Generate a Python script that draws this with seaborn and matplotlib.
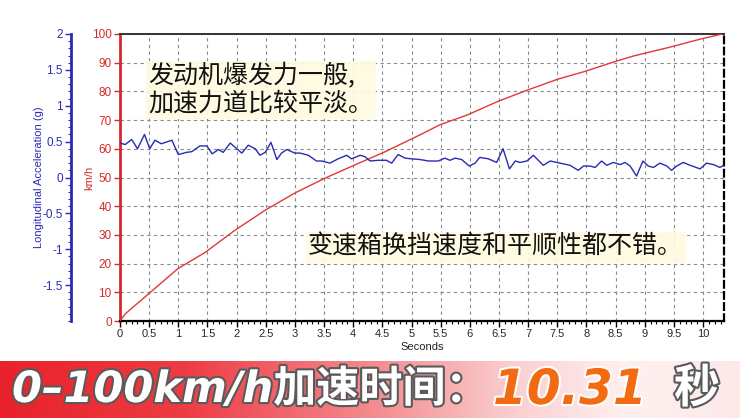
import numpy as np
import pandas as pd
import matplotlib
matplotlib.use("Agg")
import matplotlib.pyplot as plt
import matplotlib.patheffects as pe
from matplotlib.colors import LinearSegmentedColormap
from matplotlib.ticker import MultipleLocator, FixedLocator
import seaborn as sns

# ---------------- data ----------------
time_speed = [0.0, 0.09, 0.51, 0.99, 1.46, 1.97, 2.49, 3.0, 3.52, 4.03, 4.55,
              5.15, 5.49, 5.97, 6.48, 6.98, 7.5, 7.98, 8.46, 8.8, 9.43, 9.95, 10.33]
speed_kmh = [0.0, 2.5, 9.8, 18.2, 23.9, 31.6, 38.6, 44.6, 49.8, 54.4, 59.0,
             64.9, 68.4, 71.9, 76.5, 80.4, 84.2, 87.0, 90.2, 92.3, 95.4, 98.2, 100.0]

time_acc = [0.0, 0.09, 0.2, 0.3, 0.42, 0.51, 0.6, 0.71, 0.89, 1.0, 1.14, 1.23, 1.37, 1.49,
            1.58, 1.69, 1.77, 1.89, 2.09, 2.2, 2.32, 2.4, 2.49, 2.59, 2.69, 2.77, 2.86,
            3.0, 3.09, 3.23, 3.37, 3.46, 3.6, 3.74, 3.89, 3.97, 4.12, 4.2, 4.29, 4.43,
            4.57, 4.66, 4.77, 4.89, 5.0, 5.15, 5.29, 5.46, 5.57, 5.66, 5.75, 5.86, 5.99,
            6.09, 6.17, 6.32, 6.46, 6.57, 6.68, 6.78, 6.86, 6.98, 7.09, 7.26, 7.38, 7.55,
            7.72, 7.86, 7.95, 8.06, 8.15, 8.26, 8.35, 8.46, 8.58, 8.66, 8.75, 8.86, 8.97,
            9.06, 9.15, 9.26, 9.38, 9.46, 9.55, 9.66, 9.78, 9.95, 10.06, 10.18, 10.29, 10.35]
acc_g = [0.48, 0.46, 0.53, 0.40, 0.60, 0.40, 0.52, 0.47, 0.52, 0.32, 0.35, 0.36, 0.44, 0.44,
         0.33, 0.39, 0.35, 0.48, 0.34, 0.45, 0.40, 0.31, 0.35, 0.49, 0.25, 0.34, 0.39,
         0.34, 0.34, 0.31, 0.23, 0.23, 0.20, 0.26, 0.31, 0.26, 0.31, 0.29, 0.23, 0.24,
         0.24, 0.20, 0.32, 0.27, 0.26, 0.25, 0.23, 0.23, 0.27, 0.24, 0.27, 0.25, 0.16,
         0.20, 0.28, 0.26, 0.21, 0.40, 0.12, 0.23, 0.21, 0.23, 0.31, 0.17, 0.23, 0.20,
         0.17, 0.10, 0.16, 0.16, 0.14, 0.23, 0.17, 0.21, 0.18, 0.21, 0.16, 0.02, 0.23,
         0.16, 0.14, 0.20, 0.16, 0.10, 0.16, 0.21, 0.17, 0.12, 0.20, 0.18, 0.14, 0.17]

speed_ticks = [0, 10, 20, 30, 40, 50, 60, 70, 80, 90, 100]
acc_ticks = [-1.5, -1, -0.5, 0, 0.5, 1, 1.5, 2]
acc_tick_labels = ["-1.5", "-1", "-0.5", "0", "0.5", "1", "1.5", "2"]
sec_ticks = [0, 0.5, 1, 1.5, 2, 2.5, 3, 3.5, 4, 4.5, 5, 5.5, 6, 6.5, 7, 7.5, 8, 8.5, 9, 9.5, 10]
sec_tick_labels = ["0", "0.5", "1", "1.5", "2", "2.5", "3", "3.5", "4", "4.5", "5", "5.5",
                   "6", "6.5", "7", "7.5", "8", "8.5", "9", "9.5", "10"]

note1 = "发动机爆发力一般,\n加速力道比较平淡。"
note2 = "变速箱换挡速度和平顺性都不错。"
banner_a = "0–100km/h加速时间："
banner_b = "10.31"
banner_c = "秒"

# ---------------- style ----------------
sns.set_theme(style="white")
plt.rcParams['font.family'] = ['Liberation Sans', 'DejaVu Sans']

RED = '#d42a2a'
BLUE = '#2a2ab4'

W, H = 740, 418
fig = plt.figure(figsize=(W / 100, H / 100), dpi=100)
fig.patch.set_facecolor('white')

ax = fig.add_axes([120 / W, 1 - 321 / H, (724 - 120) / W, (321 - 34) / H])
ax.set_facecolor('white')

df_speed = pd.DataFrame({'t': time_speed, 'v': speed_kmh})
df_acc = pd.DataFrame({'t': time_acc, 'g': acc_g})

sns.lineplot(data=df_speed, x='t', y='v', ax=ax, color='#e03838', linewidth=1.0,
             zorder=4, estimator=None, sort=False)
ax.set_xlim(0, 10.36)
ax.set_ylim(0, 100)

# grid
ax.xaxis.set_major_locator(FixedLocator(sec_ticks))
ax.set_xticklabels(sec_tick_labels)
ax.xaxis.set_minor_locator(MultipleLocator(0.1))
ax.yaxis.set_major_locator(FixedLocator(speed_ticks))
ax.grid(True, which='major', color='#8a8a8a', linestyle=(0, (3, 3)), linewidth=0.8)
ax.set_axisbelow(True)

ax.tick_params(axis='x', which='major', direction='out', length=4, width=1,
               color='black', labelsize=8, pad=2, bottom=True)
ax.tick_params(axis='x', which='minor', direction='out', length=2.5, width=0.8,
               color='black', bottom=True)
ax.tick_params(axis='y', which='major', direction='out', length=4, width=1,
               colors=RED, labelsize=8.5, pad=2, left=True)

ax.spines['left'].set_color(RED)
ax.spines['left'].set_linewidth(2)
ax.spines['bottom'].set_color('black')
ax.spines['bottom'].set_linewidth(1.6)
ax.spines['top'].set_color('#333333')
ax.spines['top'].set_linewidth(1.4)
ax.spines['right'].set_color('black')
ax.spines['right'].set_linewidth(1.6)
ax.spines['right'].set_linestyle((0, (3, 2)))

ax.set_xlabel('Seconds', fontsize=8, color='#222222', labelpad=2)
ax.set_ylabel('km/h', fontsize=8, color=RED, labelpad=-2)

# acceleration axis
ax2 = ax.twinx()
sns.lineplot(data=df_acc, x='t', y='g', ax=ax2, color=BLUE, linewidth=1.0,
             zorder=3, estimator=None, sort=False)
ax2.set_ylim(-2, 2)
ax2.set_xlim(0, 10.36)
ax2.yaxis.set_ticks_position('left')
ax2.yaxis.set_label_position('left')
ax2.spines['left'].set_position(('outward', 35.3))
ax2.spines['left'].set_visible(True)
ax2.spines['left'].set_color(BLUE)
ax2.spines['left'].set_linewidth(2)
for s in ['right', 'top', 'bottom']:
    ax2.spines[s].set_visible(False)
ax2.yaxis.set_major_locator(FixedLocator(acc_ticks))
ax2.set_yticklabels(acc_tick_labels)
ax2.yaxis.set_minor_locator(MultipleLocator(0.1))
ax2.tick_params(axis='y', which='major', direction='out', length=4, width=1,
                colors=BLUE, labelsize=8.5, pad=2, left=True, right=False)
ax2.tick_params(axis='y', which='minor', direction='out', length=2, width=0.8,
                color=BLUE, left=True, right=False)
ax2.set_ylabel('Longitudinal Acceleration (g)', fontsize=8, color=BLUE, labelpad=-1)
ax2.set_xlabel('')
ax2.grid(False)

# annotations
cjk = ['Noto Sans CJK SC', 'DejaVu Sans']
box = dict(boxstyle='square,pad=0.1', facecolor='#fffbe0', edgecolor='none', alpha=0.92)
fig.text(148 / W, 1 - 90 / H, note1, family=cjk, fontsize=18, color='#111111',
         weight='medium', ha='left', va='center', linespacing=1.05, bbox=box, zorder=10)
fig.text(308 / W, 1 - 247 / H, note2, family=cjk, fontsize=18, color='#111111',
         weight='medium', ha='left', va='center', bbox=box, zorder=10)

# banner with gradient
bax = fig.add_axes([0, 0, 1, 57 / H])
cmap = LinearSegmentedColormap.from_list('banner', [
    (0.0, '#e8222a'), (0.25, '#ee3c44'), (0.5, '#f38a8e'),
    (0.7, '#fbd0d0'), (0.85, '#fff0f0'), (1.0, '#fde8e8')])
grad = np.linspace(0, 1, 256).reshape(1, -1)
bax.imshow(grad, aspect='auto', cmap=cmap, extent=[0, 1, 0, 1])
bax.set_xlim(0, 1)
bax.set_ylim(0, 1)
bax.axis('off')

stroke = [pe.withStroke(linewidth=3, foreground='#5a5a5a')]
mixed = ['DejaVu Sans', 'Noto Sans CJK SC']
fig.text(12 / W, 1 - 390 / H, banner_a, family=mixed, fontsize=31, weight='bold',
         style='italic', color='white', ha='left', va='center', path_effects=stroke)
fig.text(493 / W, 1 - 390 / H, banner_b, family=mixed, fontsize=35, weight='bold',
         style='italic', color='#f26a12', ha='left', va='center',
         path_effects=[pe.withStroke(linewidth=3, foreground='#ffffff')])
fig.text(674 / W, 1 - 390 / H, banner_c, family=mixed, fontsize=33, weight='bold',
         color='white', ha='left', va='center', path_effects=stroke)

fig.savefig('out.png', dpi=100)
